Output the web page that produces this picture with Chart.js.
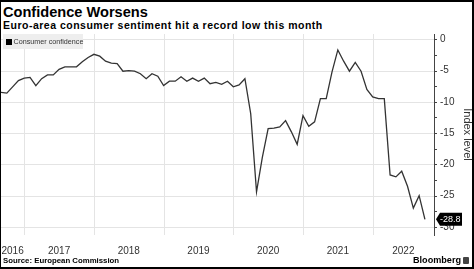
<!DOCTYPE html>
<html lang="en">
<head>
<meta charset="utf-8">
<title>Confidence Worsens</title>
<script src="https://cdn.jsdelivr.net/npm/chart.js@4.4.0/dist/chart.umd.min.js"></script>
<style>
  * { margin: 0; padding: 0; box-sizing: border-box; }
  body {
    width: 474px;
    height: 269px;
    background: #000;
    position: relative;
    overflow: hidden;
    font-family: "Liberation Sans", Arial, sans-serif;
  }
  .panel { position: absolute; left: 1px; top: 2px; width: 471px; height: 265px; background: #fff; }
  .title { position: absolute; left: 3px; top: 4.5px; font-size: 14.6px; line-height: 1; font-weight: bold; color: #000; white-space: nowrap; }
  .subtitle { position: absolute; left: 3px; top: 19.5px; font-size: 10.5px; line-height: 1; font-weight: bold; letter-spacing: 0.5px; color: #000; white-space: nowrap; }
  #chart { position: absolute; left: 0; top: 30px; }
  .source { position: absolute; left: 3px; top: 256.5px; font-size: 7.8px; line-height: 1; font-weight: bold; color: #000; white-space: nowrap; }
  .brand { position: absolute; left: 413px; top: 256.3px; font-size: 9.1px; line-height: 1; font-weight: bold; color: #000; white-space: nowrap; }
  .brand-icon { position: absolute; left: 463px; top: 257px; width: 6px; height: 7px; background: #444; border-radius: 1px; }
</style>
</head>
<body>
<div class="panel"></div>
<div class="title">Confidence Worsens</div>
<div class="subtitle">Euro-area consumer sentiment hit a record low this month</div>
<canvas id="chart" width="474" height="230"></canvas>
<div class="source">Source: European Commission</div>
<div class="brand">Bloomberg</div>
<div class="brand-icon"></div>

<script>
// monthly readings, month-end points; 2016 starts in August, 2022 ends in September
const seriesName = "Consumer confidence";
const firstYear = 2016;
const firstMonth = 8;
const y2016 = [-8.5, -8.6, -7.6, -6.6, -6.2];
const y2017 = [-6.1, -7.4, -6.3, -5.7, -5.7, -4.8, -4.4, -4.4, -4.4, -3.6, -2.9, -2.4];
const y2018 = [-2.7, -3.5, -3.8, -3.9, -5.1, -5.0, -5.1, -5.5, -6.3, -5.5, -5.9, -7.4];
const y2019 = [-6.7, -6.7, -6.0, -6.7, -6.2, -6.7, -6.2, -7.1, -6.9, -7.2, -6.7, -7.6];
const y2020 = [-7.3, -6.3, -11.9, -24.4, -18.9, -14.3, -14.2, -14.0, -13.0, -14.8, -16.8, -12.2];
const y2021 = [-13.9, -13.2, -9.5, -9.5, -5.2, -1.7, -3.5, -5.1, -3.7, -5.1, -8.0, -9.2];
const y2022 = [-9.5, -9.5, -21.7, -22.0, -21.1, -23.5, -27.0, -25.0, -28.8];
const yearly = [y2016, y2017, y2018, y2019, y2020, y2021, y2022];

// y axis
const yMin = -31.3;
const yMax = 0.85;
const yStep = 2.5;
const yLabelEvery = 5;
const xMax = 2022.88;

const points = [];
yearly.forEach((vals, yi) => {
  const startM = yi === 0 ? firstMonth : 1;
  vals.forEach((v, i) => {
    points.push({ x: firstYear + yi + (startM + i) / 12, y: v });
  });
});
const xMin = points[0].x;
const lastValue = points[points.length - 1].y;

const gridColor = "#e4e4e4";
const axisColor = "#444";
const textColor = "#333";
const font = '"Liberation Sans", Arial, sans-serif';

// grid lines (year starts, every 5 points) and the small axis ticks, from the scales
const bbgGrid = {
  id: "bbgGrid",
  beforeDatasetsDraw(chart) {
    const { ctx, chartArea: a, scales } = chart;
    const xs = scales.x, ys = scales.y;
    ctx.save();
    ctx.fillStyle = gridColor;
    xs.ticks.forEach(t => {
      if (!Number.isInteger(t.value)) return;
      const px = Math.round(xs.getPixelForValue(t.value));
      ctx.fillRect(px, a.top, 1, a.bottom - a.top);
    });
    ys.ticks.forEach(t => {
      if (t.value % yLabelEvery !== 0) return;
      const py = Math.round(ys.getPixelForValue(t.value));
      ctx.fillRect(a.left, py, a.right - a.left, 1);
    });
    ctx.fillStyle = axisColor;
    ys.ticks.forEach(t => {
      const py = Math.round(ys.getPixelForValue(t.value));
      ctx.fillRect(ys.left, py, 3, 1);
    });
    ctx.restore();
  }
};

// legend drawn inside the plot with a grey box, like the original
const boxLegend = {
  id: "boxLegend",
  afterDatasetsDraw(chart) {
    const ctx = chart.ctx;
    const a = chart.chartArea;
    ctx.save();
    ctx.fillStyle = "#eeeeee";
    ctx.fillRect(a.left + 2, a.top, 80, 15);
    ctx.fillStyle = "#000";
    ctx.fillRect(a.left + 5, a.top + 5, 6, 6);
    ctx.fillStyle = textColor;
    ctx.font = "7.2px " + font;
    ctx.textBaseline = "middle";
    ctx.fillText(seriesName, a.left + 12.5, a.top + 8);
    ctx.restore();
  }
};

// black tag with the last value on the right axis
const lastTag = {
  id: "lastTag",
  afterDraw(chart) {
    const ctx = chart.ctx;
    const ys = chart.scales.y;
    const py = ys.getPixelForValue(lastValue);
    const px = ys.left + 2;
    ctx.save();
    ctx.fillStyle = "#000";
    ctx.beginPath();
    ctx.moveTo(px, py);
    ctx.lineTo(px + 4, py - 6.5);
    ctx.lineTo(px + 26, py - 6.5);
    ctx.lineTo(px + 26, py + 6.5);
    ctx.lineTo(px + 4, py + 6.5);
    ctx.closePath();
    ctx.fill();
    ctx.fillStyle = "#fff";
    ctx.font = "9px " + font;
    ctx.textBaseline = "middle";
    ctx.fillText(lastValue.toFixed(1), px + 4, py + 0.5);
    ctx.restore();
  }
};

new Chart(document.getElementById("chart"), {
  type: "line",
  data: {
    datasets: [{
      label: seriesName,
      data: points,
      borderColor: "#333",
      borderWidth: 1.3,
      pointRadius: 0,
      tension: 0,
      fill: false
    }]
  },
  options: {
    responsive: false,
    animation: false,
    layout: { padding: { left: 1, top: 4, right: 0, bottom: 0 } },
    plugins: {
      legend: { display: false },
      tooltip: { enabled: false }
    },
    scales: {
      x: {
        type: "linear",
        min: xMin,
        max: xMax,
        border: { display: false },
        grid: { display: false, drawTicks: false },
        ticks: {
          autoSkip: false,
          maxRotation: 0,
          padding: 10,
          color: textColor,
          font: { family: font, size: 10 },
          callback: v => Number.isInteger(v) ? "" : String(Math.floor(v))
        },
        afterBuildTicks: scale => {
          // year starts carry the grid, labels sit in the middle of the visible part of each year
          const t = [];
          for (let yr = Math.floor(xMin); yr <= Math.floor(xMax); yr++) {
            if (yr > xMin) t.push({ value: yr });
            const a = Math.max(yr, xMin), b = Math.min(yr + 1, xMax);
            t.push({ value: (a + b) / 2 });
          }
          scale.ticks = t;
        },
        afterFit: scale => {
          scale.height = 25;
          scale.paddingLeft = 0;
          scale.paddingRight = 0;
        }
      },
      y: {
        position: "right",
        min: yMin,
        max: yMax,
        border: { display: true, color: axisColor, width: 1 },
        grid: { display: false, drawTicks: false },
        ticks: {
          stepSize: yStep,
          includeBounds: false,
          padding: 6,
          color: textColor,
          font: { family: font, size: 10 },
          callback: v => v % yLabelEvery === 0 ? String(v) : ""
        },
        title: {
          display: true,
          text: "Index level",
          color: textColor,
          padding: 0,
          font: { family: font, size: 11 }
        },
        afterFit: scale => {
          scale.width = 40;
          scale.paddingTop = 0;
          scale.paddingBottom = 0;
        }
      }
    }
  },
  plugins: [bbgGrid, boxLegend, lastTag]
});
</script>
</body>
</html>
